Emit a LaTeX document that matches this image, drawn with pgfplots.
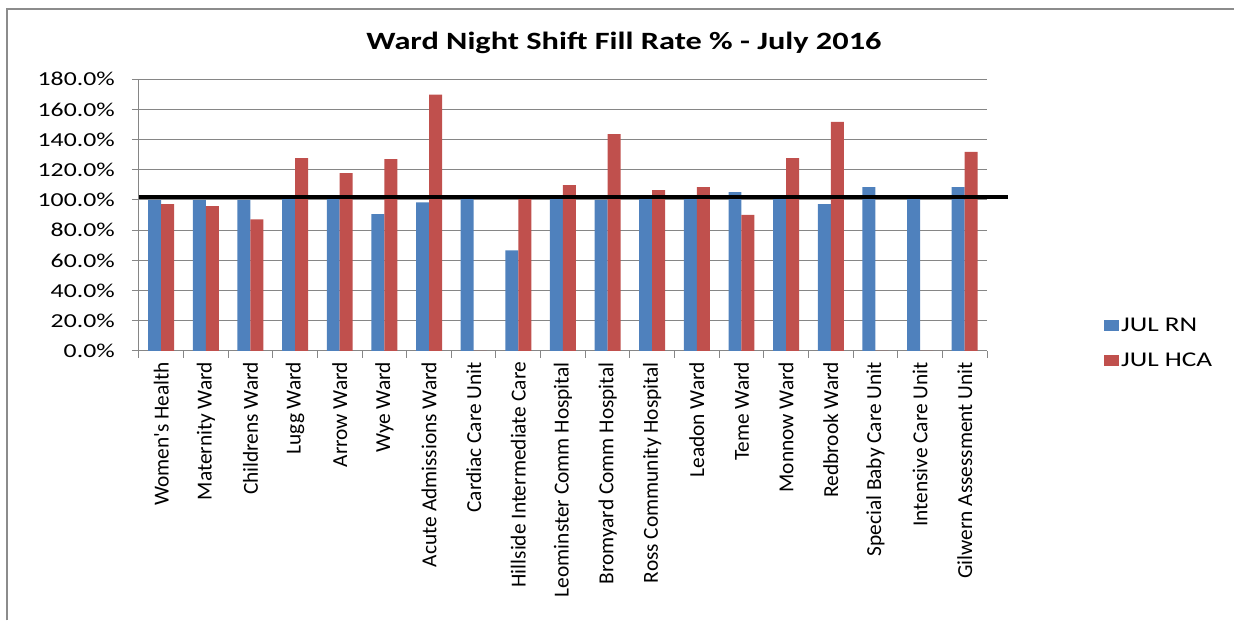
\documentclass[border=0pt]{standalone}
\usepackage{fontspec}
\setmainfont{Carlito}[FakeStretch=1.3]
\newfontfamily\rotfont{Carlito}
\usepackage{pgfplots}
\usepackage{pgfplotstable}
\pgfplotsset{compat=1.18}
\definecolor{rnblue}{HTML}{4F81BD}
\definecolor{hcared}{HTML}{C0504D}
\definecolor{gridgray}{HTML}{868686}
\definecolor{framegray}{HTML}{8C8C8C}

\pgfplotstableread{
idx rn hca
0 100 97.2
1 100 95.9
2 100 87.2
3 100.5 127.8
4 100.5 117.8
5 90.6 127.1
6 98.5 169.8
7 100.5 0
8 66.6 100.5
9 100.5 109.8
10 100 143.7
11 100.5 106.5
12 100.5 108.5
13 105.2 90.1
14 100.5 127.8
15 97.2 151.7
16 108.5 0
17 100.5 0
18 108.5 131.8
}\datatable

\begin{document}
\begin{tikzpicture}[x=1pt,y=1pt]
\path (0,0) rectangle (1235,621);
\draw[framegray, line width=2.5pt] (7,0) -- (7,612) -- (1235,612);
\node[font=\fontsize{24.9}{28}\selectfont\bfseries, anchor=base, inner sep=0pt] at (624.5,571) {Ward Night Shift Fill Rate \% - July 2016};
\begin{axis}[
  at={(139pt,269.7pt)}, anchor=south west,
  scale only axis, width=849pt, height=272pt,
  xmin=-0.5, xmax=18.5, ymin=0, ymax=180,
  ybar=0pt, bar width=13pt,
  clip=false,
  ytick={0,20,...,180},
  yticklabel={\pgfmathprintnumber[fixed,fixed zerofill,precision=1]{\tick}\%},
  /pgf/number format/assume math mode=true,
  ymajorgrids, grid style={gridgray, line width=1pt},
  axis x line*=bottom, axis y line*=left,
  axis line style={gridgray, line width=1pt, -},
  tick align=outside, major tick length=7pt,
  tick style={gridgray, line width=1pt},
  xtick={-0.5,0.5,...,18.5}, xticklabels={},
  extra x ticks={0,1,...,18},
  extra x tick style={major tick length=0pt},
  extra x tick labels={Women's Health, Maternity Ward, Childrens Ward, Lugg Ward, Arrow Ward, Wye Ward, Acute Admissions Ward, Cardiac Care Unit, Hillside Intermediate Care, Leominster Comm Hospital, Bromyard Comm Hospital, Ross Community Hospital, Leadon Ward, Teme Ward, Monnow Ward, Redbrook Ward, Special Baby Care Unit, Intensive Care Unit, Gilwern Assessment Unit},
  xticklabel style={yshift=-11pt, rotate=90, anchor=east, inner sep=0pt, font=\rotfont\fontsize{21.4}{24}\selectfont},
  yticklabel style={inner sep=0pt, xshift=-17pt, font=\fontsize{19.8}{22}\selectfont},
  legend style={at={(axis description cs:1.1378,0.0287)}, anchor=west, draw=none, fill=none, inner sep=0pt, font=\fontsize{21}{23}\selectfont, row sep=16pt},
  legend cell align=left,
  legend image code/.code={\draw[#1,draw=none] (0pt,-5.5pt) rectangle (15pt,5.5pt);},
]
\addplot[fill=rnblue, draw=none] table[x=idx,y=rn]{\datatable};
\addplot[fill=hcared, draw=none] table[x=idx,y=hca]{\datatable};
\legend{JUL RN, JUL HCA}
\draw[black, line width=4pt] (axis cs:-0.5,102) -- (axis cs:18.97,102);
\end{axis}
\end{tikzpicture}
\end{document}
